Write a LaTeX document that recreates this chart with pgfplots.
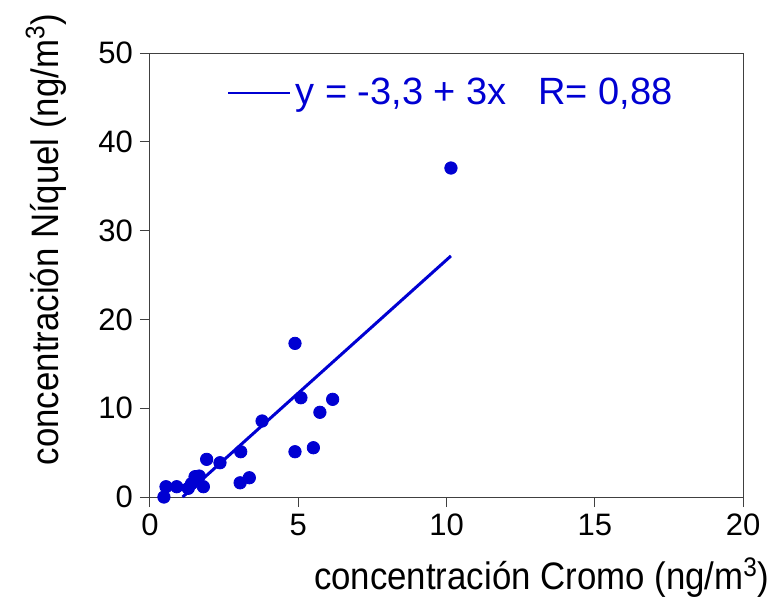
\documentclass[border=0pt]{standalone}
\usepackage{pgfplots}
\pgfplotsset{compat=1.18}
\usepackage{fontspec}
\setmainfont{Liberation Sans}
\definecolor{dblue}{RGB}{0,0,210}
\begin{document}
\begin{tikzpicture}
\path[use as bounding box] (-75pt,-52pt) rectangle (312.5pt,248.5pt);
\begin{axis}[
  at={(0,0)}, anchor=origin,
  scale only axis,
  width=296.5pt, height=222pt,
  xmin=0, xmax=20, ymin=0, ymax=50,
  xtick={0,5,10,15,20}, ytick={0,10,20,30,40,50},
  tick align=outside, tick pos=left,
  major tick length=5pt,
  axis line style={line width=0.5pt, black!75},
  tick style={line width=0.5pt, black!75},
  tick label style={font=\fontsize{15.5}{17}\selectfont},
  /pgf/number format/assume math mode=true,
  xlabel={\scalebox{1}[1.1]{concentración Cromo (ng/m\textsuperscript{3})}},
  ylabel={\scalebox{1}[1.1]{concentración Níquel (ng/m\textsuperscript{3})}},
  label style={font=\fontsize{17.4}{19}\selectfont, inner sep=0pt},
  xlabel style={at={(axis description cs:1.0455,-0.209)}, anchor=base east},
  ylabel style={at={(axis description cs:-0.155,1.09)}, anchor=base east},
  clip=false,
  legend style={draw=none, fill=none, at={(axis description cs:0.13,0.91)}, anchor=west,
    font=\fontsize{19}{21}\selectfont, text=dblue, inner sep=0pt},
  legend cell align=left,
  legend image code/.code={\draw[dblue, line width=1pt] (0pt,0pt) -- (31pt,0pt);},
]
\addplot[only marks, mark=*, mark size=3.1pt, color=dblue, forget plot] coordinates {
(0.47,0.0) (0.54,1.16) (0.9,1.16) (1.29,0.98) (1.4,1.5) (1.52,2.29) (1.66,2.36)
(1.8,1.16) (1.91,4.24) (2.36,3.86) (3.04,1.6) (3.35,2.17) (3.06,5.1)
(3.78,8.56) (4.89,5.1) (5.51,5.55) (5.09,11.18) (5.73,9.54) (6.16,11.0)
(4.89,17.3) (10.15,37.05)
};
\addplot[color=dblue, line width=1.5pt] coordinates {(1.1,0) (10.15,27.15)};
\addlegendentry{y = -3,3 + 3x\ \ \ R= 0,88}
\end{axis}
\end{tikzpicture}
\end{document}
